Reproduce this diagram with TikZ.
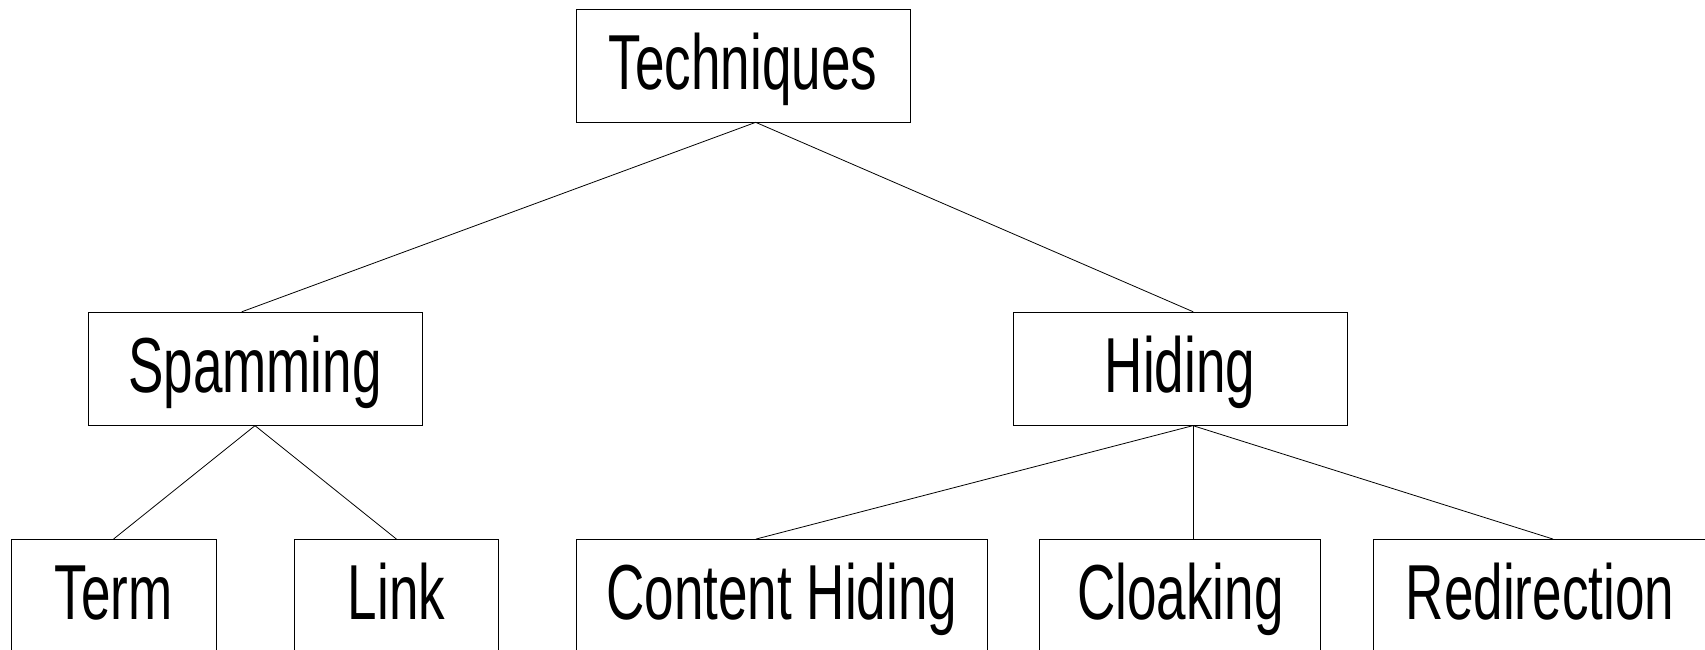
\documentclass[tikz,border=0pt]{standalone}
\usepackage{fontspec}
\newfontfamily\boxfont{Liberation Sans}[FakeStretch=0.68]
\usepackage{tikz}

\tikzset{
  box/.style={draw, inner sep=0pt, minimum height=1.986cm,
    text height=32pt, text depth=8pt,
    font=\boxfont\fontsize{39}{47}\selectfont},
}

\begin{document}
\begin{tikzpicture}
  \useasboundingbox (0, 0) rectangle (29.962, 11.422);

  % racine
  \node[box, minimum width=5.869cm] at (13.057, 10.272) (tech) {Techniques};

  % niveau 1
  \node[box, minimum width=5.869cm] at (4.481, 4.942) (spam) {Spamming};
  \node[box, minimum width=5.869cm] at (20.736, 4.942) (hide) {Hiding};

  % niveau 2
  \node[box, minimum width=3.602cm] at (1.995, 0.949) (term) {Term};
  \node[box, minimum width=3.602cm] at (6.966, 0.949) (link) {Link};
  \node[box, minimum width=7.222cm] at (13.739, 0.949) (content) {Content Hiding};
  \node[box, minimum width=4.938cm] at (20.743, 0.949) (cloak) {Cloaking};
  \node[box, minimum width=5.869cm] at (27.063, 0.949) (redir) {Redirection};

  % liens
  \draw ([xshift=0.223cm]tech.south) -- ([xshift=-0.234cm]spam.north);
  \draw ([xshift=0.223cm]tech.south) -- ([xshift=0.234cm]hide.north);

  \draw (spam.south) -- (term.north);
  \draw (spam.south) -- (link.north);

  \draw ([xshift=0.228cm]hide.south) -- ([xshift=-0.453cm]content.north);
  \draw ([xshift=0.228cm]hide.south) -- ([xshift=0.221cm]cloak.north);
  \draw ([xshift=0.228cm]hide.south) -- ([xshift=0.228cm]redir.north);
\end{tikzpicture}
\end{document}
